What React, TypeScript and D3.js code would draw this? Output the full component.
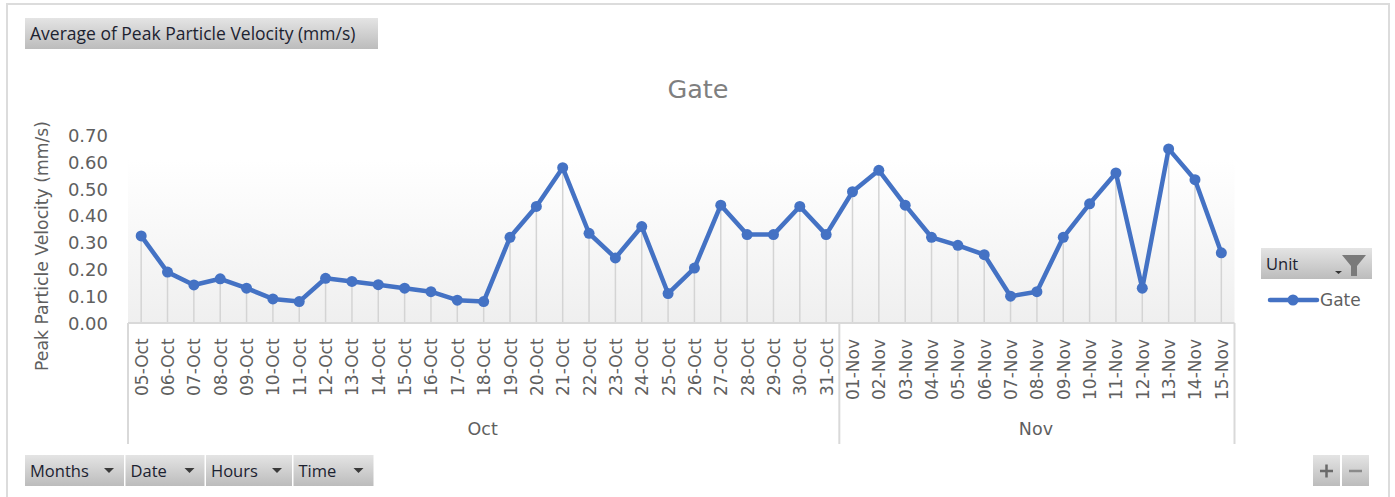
import React from "react";
import * as d3 from "d3";

const dates = ["05-Oct","06-Oct","07-Oct","08-Oct","09-Oct","10-Oct","11-Oct","12-Oct","13-Oct","14-Oct","15-Oct","16-Oct","17-Oct","18-Oct","19-Oct","20-Oct","21-Oct","22-Oct","23-Oct","24-Oct","25-Oct","26-Oct","27-Oct","28-Oct","29-Oct","30-Oct","31-Oct","01-Nov","02-Nov","03-Nov","04-Nov","05-Nov","06-Nov","07-Nov","08-Nov","09-Nov","10-Nov","11-Nov","12-Nov","13-Nov","14-Nov","15-Nov"];
const values = [0.325,0.19,0.142,0.165,0.13,0.09,0.08,0.167,0.155,0.143,0.13,0.117,0.085,0.08,0.32,0.435,0.58,0.335,0.243,0.36,0.11,0.205,0.44,0.33,0.33,0.435,0.33,0.49,0.57,0.44,0.32,0.29,0.255,0.1,0.117,0.32,0.445,0.56,0.13,0.65,0.535,0.262];
const yTicks = [0,0.1,0.2,0.3,0.4,0.5,0.6,0.7];
const months = [{ name: "Oct", from: "05-Oct", to: "31-Oct" }, { name: "Nov", from: "01-Nov", to: "15-Nov" }];
const bottomButtons = [{ label: "Months", w: 99 }, { label: "Date", w: 79 }, { label: "Hours", w: 86 }, { label: "Time", w: 80 }];

const FONT = "'DejaVu Sans', sans-serif";
const BTN = "'Open Sans', sans-serif";
const BLUE = "#4472c4";
const GREY = "#5f5f5f";
const AXIS = "#d9d9d9";

function Button({ x, y, w, h, label, size = 16.5 }: any) {
  return (
    <g>
      <rect x={x} y={y} width={w} height={h} fill="url(#btn)" />
      <text x={x + 5} y={y + h / 2 + 6} fontFamily={BTN} fontSize={size} fill="#1c2230">{label}</text>
    </g>
  );
}

export default function App() {
  const x = d3.scaleBand<string>().domain(dates).range([128, 1234.5]);
  const y = d3.scaleLinear().domain([0, 0.7]).range([323, 135.5]);
  const cx = (d: string) => x(d)! + x.bandwidth() / 2;
  const line = d3.line<number>().x((_, i) => cx(dates[i])).y((v) => y(v));
  let bx = 25;
  return (
    <svg width={1395} height={497} style={{ position: "absolute", left: 0, top: 0, background: "#fff" }}>
      <defs>
        <linearGradient id="bg" x1="0" y1="0" x2="0" y2="1">
          <stop offset="0" stopColor="#ffffff" />
          <stop offset="1" stopColor="#efefef" />
        </linearGradient>
        <linearGradient id="btn" x1="0" y1="0" x2="0" y2="1">
          <stop offset="0" stopColor="#e4e4e4" />
          <stop offset="1" stopColor="#bcbcbc" />
        </linearGradient>
      </defs>
      <path d="M7 497V4H1389V497" fill="none" stroke="#dcdcdc" strokeWidth={2} />
      <Button x={25} y={18} w={353} h={31} label="Average of Peak Particle Velocity (mm/s)" size={17.5} />
      <text x={698} y={98} textAnchor="middle" fontFamily={FONT} fontSize={25.5} fill="#7f7f7f">Gate</text>

      <rect x={128} y={160} width={1106.5} height={163} fill="url(#bg)" />
      {dates.map((d) => (
        <line key={d} x1={cx(d)} x2={cx(d)} y1={y(values[dates.indexOf(d)])} y2={323} stroke="#d4d4d4" strokeWidth={1.5} />
      ))}

      {yTicks.map((t) => (
        <text key={t} x={108} y={y(t) + 6.5} textAnchor="end" fontFamily={FONT} fontSize={18} fill={GREY}>{t.toFixed(2)}</text>
      ))}
      <text transform="translate(48,246) rotate(-90)" textAnchor="middle" fontFamily={FONT} fontSize={17.2} fill={GREY}>Peak Particle Velocity (mm/s)</text>

      <line x1={128} x2={1234.5} y1={323} y2={323} stroke={AXIS} strokeWidth={2} />
      <line x1={128} x2={128} y1={323} y2={444} stroke={AXIS} strokeWidth={2} />
      <line x1={x("01-Nov")!} x2={x("01-Nov")!} y1={323} y2={444} stroke={AXIS} strokeWidth={2} />
      <line x1={1234.5} x2={1234.5} y1={323} y2={444} stroke={AXIS} strokeWidth={2} />

      {dates.map((d) => (
        <text key={d} transform={`translate(${cx(d) + 6.5},${d.endsWith("Oct") ? 396 : 400}) rotate(-90)`} fontFamily={FONT} fontSize={17} fill={GREY}>{d}</text>
      ))}
      {months.map((m) => (
        <text key={m.name} x={(x(m.from)! + x(m.to)! + x.bandwidth()) / 2 - 1} y={435} textAnchor="middle" fontFamily={FONT} fontSize={17.5} fill={GREY}>{m.name}</text>
      ))}

      <path d={line(values)!} fill="none" stroke={BLUE} strokeWidth={4.5} strokeLinejoin="round" strokeLinecap="round" />
      {values.map((v, i) => (
        <circle key={dates[i]} cx={cx(dates[i])} cy={y(v)} r={5.5} fill={BLUE} />
      ))}

      {bottomButtons.map((b) => {
        const bx0 = bx;
        bx += b.w + 1.5;
        return (
          <g key={b.label}>
            <Button x={bx0} y={455} w={b.w} h={31} label={b.label} />
            <path d={`M${bx0 + b.w - 20} 468h10l-5 5z`} fill="#3a3a3a" />
          </g>
        );
      })}

      <Button x={1261} y={248} w={111} h={31} label="Unit" />
      <path d="M1335 271h7l-3.500 3z" fill="#333" />
      <path d="M1342 255h24l-9 11v10h-6v-10z" fill="#7a7a7a" />
      <line x1={1270} x2={1317} y1={300} y2={300} stroke={BLUE} strokeWidth={4.5} strokeLinecap="round" />
      <circle cx={1293} cy={300} r={5.5} fill={BLUE} />
      <text x={1320} y={305.500} fontFamily={FONT} fontSize={17} fill={GREY}>Gate</text>

      <rect x={1313} y={455} width={27} height={31} fill="url(#btn)" />
      <rect x={1342} y={455} width={27} height={31} fill="url(#btn)" />
      <path d="M1320 471h13M1326.5 464.500v13" stroke="#6a6a6a" strokeWidth={2.5} />
      <path d="M1349 471h13" stroke="#8a8a8a" strokeWidth={2.5} />
    </svg>
  );
}
